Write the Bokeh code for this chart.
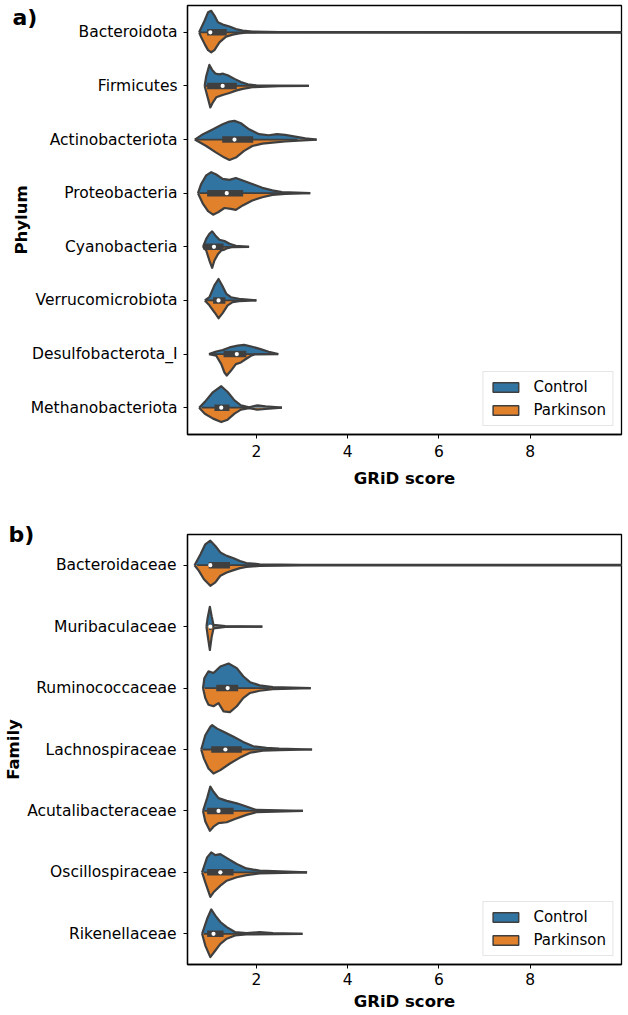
from bokeh.plotting import figure
from bokeh.models import Range1d, FixedTicker, Legend, LegendItem
from bokeh.layouts import column
from bokeh.embed import file_html
from bokeh.resources import INLINE

CTRL_COLOR = "#3274a1"
PARK_COLOR = "#e1812c"
EDGE = "#3f3f3f"
GROUPS = ["Control", "Parkinson"]

# ---------------- panel a: Phylum ----------------
phylum_labels = ["Bacteroidota", "Firmicutes", "Actinobacteriota", "Proteobacteria",
                 "Cyanobacteria", "Verrucomicrobiota", "Desulfobacterota_I", "Methanobacteriota"]
phylum_ctrl_x = [
    [0.745, 0.866, 0.94, 1.01, 1.08, 1.156, 1.264, 1.41, 1.55, 1.70, 1.91, 2.5, 10.2],
    [0.866, 0.90, 0.97, 1.03, 1.10, 1.18, 1.27, 1.37, 1.52, 1.66, 1.81, 2.0, 2.4, 3.15],
    [0.65, 0.83, 1.05, 1.26, 1.41, 1.52, 1.66, 1.84, 2.06, 2.27, 2.45, 2.63, 2.85, 3.07, 3.32],
    [0.72, 0.79, 0.90, 1.01, 1.12, 1.26, 1.41, 1.55, 1.70, 1.91, 2.13, 2.35, 2.56, 3.18],
    [0.83, 0.90, 0.97, 1.03, 1.10, 1.19, 1.30, 1.41, 1.55, 1.84],
    [0.87, 0.97, 1.08, 1.17, 1.25, 1.34, 1.44, 1.62, 2.0],
    [0.96, 1.12, 1.26, 1.41, 1.59, 1.73, 1.91, 2.09, 2.27, 2.48],
    [0.745, 0.87, 1.05, 1.23, 1.37, 1.52, 1.66, 1.84, 2.02, 2.20, 2.56],
]
phylum_ctrl_w = [
    [0, 0.55, 0.93, 1.0, 0.78, 0.47, 0.36, 0.27, 0.15, 0.08, 0.03, 0.015, 0.01],
    [0, 0.45, 0.98, 0.75, 0.58, 0.54, 0.57, 0.5, 0.33, 0.18, 0.08, 0.03, 0.015, 0],
    [0, 0.25, 0.48, 0.71, 0.84, 0.87, 0.76, 0.48, 0.25, 0.2, 0.25, 0.22, 0.14, 0.06, 0],
    [0, 0.43, 0.83, 0.98, 0.87, 0.67, 0.62, 0.71, 0.59, 0.43, 0.25, 0.13, 0.05, 0],
    [0, 0.37, 0.61, 0.72, 0.53, 0.33, 0.27, 0.14, 0.05, 0],
    [0, 0.15, 0.7, 1.0, 0.7, 0.31, 0.15, 0.08, 0],
    [0, 0.12, 0.19, 0.31, 0.39, 0.43, 0.34, 0.23, 0.11, 0],
    [0, 0.27, 0.73, 1.0, 0.73, 0.34, 0.11, 0.02, 0.11, 0.06, 0],
]
phylum_park_x = [
    [0.745, 0.79, 0.866, 0.94, 1.01, 1.08, 1.19, 1.335, 1.48, 1.62, 1.77, 2.5, 10.2],
    [0.866, 0.94, 0.99, 1.05, 1.12, 1.26, 1.41, 1.55, 1.70, 1.91, 2.5, 3.15],
    [0.65, 0.90, 1.12, 1.30, 1.41, 1.55, 1.73, 1.91, 2.13, 2.35, 2.63, 2.92, 3.32],
    [0.72, 0.83, 0.94, 1.05, 1.16, 1.30, 1.44, 1.55, 1.70, 1.91, 2.13, 2.35, 2.63, 3.18],
    [0.83, 0.90, 0.97, 1.03, 1.08, 1.16, 1.23, 1.30, 1.37, 1.48, 1.84],
    [0.87, 0.97, 1.08, 1.17, 1.26, 1.37, 1.48, 1.62, 2.0],
    [0.96, 1.12, 1.23, 1.30, 1.35, 1.44, 1.55, 1.66, 1.77, 1.88, 1.98, 2.48],
    [0.745, 0.87, 1.05, 1.23, 1.37, 1.52, 1.66, 1.84, 2.02, 2.20, 2.56],
]
phylum_park_w = [
    [0, 0.23, 0.55, 0.83, 0.93, 0.83, 0.47, 0.2, 0.11, 0.05, 0.015, 0.01, 0.01],
    [0, 0.6, 1.0, 0.75, 0.53, 0.42, 0.33, 0.22, 0.14, 0.06, 0.01, 0],
    [0, 0.3, 0.61, 0.84, 0.95, 0.84, 0.53, 0.3, 0.19, 0.14, 0.09, 0.05, 0],
    [0, 0.5, 0.84, 1.0, 0.89, 0.69, 0.73, 0.78, 0.57, 0.34, 0.19, 0.08, 0.03, 0],
    [0, 0.17, 0.64, 0.98, 0.64, 0.33, 0.17, 0.13, 0.06, 0.01, 0],
    [0, 0.23, 0.55, 0.83, 0.59, 0.23, 0.08, 0.03, 0],
    [0, 0.08, 0.47, 0.86, 1.0, 0.78, 0.47, 0.39, 0.23, 0.08, 0.01, 0],
    [0, 0.28, 0.51, 0.67, 0.56, 0.28, 0.09, 0.02, 0.09, 0.06, 0],
]
phylum_q1 = [0.92, 0.92, 1.25, 0.92, 0.84, 1.05, 1.28, 1.08]
phylum_median = [0.99, 1.26, 1.52, 1.35, 1.07, 1.17, 1.57, 1.23]
phylum_q3 = [1.35, 1.57, 1.93, 1.71, 1.28, 1.32, 1.78, 1.41]
phylum_whisker_lo = [0.76, 0.88, 0.70, 0.75, 0.84, 0.90, 1.00, 0.80]
phylum_whisker_hi = [2.0, 2.5, 2.9, 2.7, 1.7, 1.7, 2.3, 1.85]

# ---------------- panel b: Family ----------------
family_labels = ["Bacteroidaceae", "Muribaculaceae", "Ruminococcaceae", "Lachnospiraceae",
                 "Acutalibacteraceae", "Oscillospiraceae", "Rikenellaceae"]
family_ctrl_x = [
    [0.645, 0.775, 0.88, 0.99, 1.10, 1.21, 1.35, 1.50, 1.64, 1.78, 2.07, 3.0, 10.2],
    [0.905, 0.93, 0.98, 1.02, 1.06, 1.32, 2.13],
    [0.83, 0.86, 0.95, 1.06, 1.21, 1.39, 1.57, 1.71, 1.86, 2.07, 2.36, 3.19],
    [0.79, 0.88, 0.99, 1.03, 1.14, 1.28, 1.50, 1.71, 1.93, 2.22, 2.50, 3.22],
    [0.83, 0.92, 0.99, 1.06, 1.17, 1.35, 1.57, 1.78, 2.0, 3.02],
    [0.81, 0.92, 1.01, 1.10, 1.21, 1.39, 1.57, 1.78, 2.07, 3.11],
    [0.81, 0.92, 1.01, 1.10, 1.21, 1.35, 1.53, 1.78, 2.07, 2.36, 3.01],
]
family_ctrl_w = [
    [0, 0.45, 0.85, 1.0, 0.78, 0.52, 0.38, 0.28, 0.17, 0.09, 0.04, 0.015, 0.01],
    [0, 0.34, 0.81, 0.41, 0.07, 0.02, 0],
    [0, 0.41, 0.68, 0.61, 0.88, 1.0, 0.81, 0.48, 0.24, 0.11, 0.04, 0],
    [0, 0.58, 0.92, 0.99, 0.85, 0.72, 0.52, 0.31, 0.13, 0.07, 0.04, 0],
    [0, 0.52, 0.99, 0.78, 0.52, 0.41, 0.31, 0.18, 0.04, 0],
    [0, 0.61, 0.81, 0.70, 0.74, 0.54, 0.34, 0.16, 0.07, 0],
    [0, 0.61, 0.99, 0.74, 0.48, 0.27, 0.07, 0.03, 0.07, 0.03, 0],
]
family_park_x = [
    [0.645, 0.74, 0.85, 0.99, 1.10, 1.21, 1.35, 1.50, 1.64, 1.78, 2.07, 3.0, 10.2],
    [0.905, 0.93, 0.98, 1.02, 1.06, 1.32, 2.13],
    [0.83, 0.88, 0.95, 1.06, 1.17, 1.28, 1.42, 1.57, 1.71, 1.86, 2.07, 2.36, 3.19],
    [0.79, 0.85, 0.95, 1.06, 1.21, 1.42, 1.64, 1.86, 2.14, 2.50, 3.22],
    [0.83, 0.88, 0.98, 1.06, 1.17, 1.35, 1.53, 1.78, 2.0, 3.02],
    [0.81, 0.88, 0.99, 1.06, 1.21, 1.35, 1.57, 1.78, 2.07, 3.11],
    [0.81, 0.88, 0.99, 1.10, 1.21, 1.35, 1.53, 1.78, 3.01],
]
family_park_w = [
    [0, 0.23, 0.57, 0.84, 0.7, 0.43, 0.3, 0.2, 0.12, 0.07, 0.03, 0.012, 0.01],
    [0, 0.34, 0.95, 0.41, 0.07, 0.01, 0],
    [0, 0.41, 0.68, 0.74, 0.61, 0.95, 0.98, 0.74, 0.41, 0.2, 0.11, 0.04, 0],
    [0, 0.37, 0.77, 0.98, 0.84, 0.57, 0.33, 0.13, 0.05, 0.03, 0],
    [0, 0.43, 0.81, 0.64, 0.5, 0.46, 0.33, 0.16, 0.05, 0],
    [0, 0.41, 1.0, 0.81, 0.54, 0.34, 0.2, 0.11, 0.04, 0],
    [0, 0.48, 0.95, 0.68, 0.41, 0.2, 0.07, 0.03, 0],
]
family_q1 = [0.955, 0.96, 1.12, 1.01, 0.92, 0.92, 0.92]
family_median = [0.99, 0.99, 1.37, 1.32, 1.17, 1.21, 1.06]
family_q3 = [1.42, 1.02, 1.60, 1.68, 1.50, 1.50, 1.28]
family_whisker_lo = [0.70, 0.93, 0.87, 0.82, 0.86, 0.85, 0.85]
family_whisker_hi = [2.1, 1.08, 2.3, 2.7, 2.4, 2.4, 1.8]

x_ticks = [2, 4, 6, 8]
x_title = "GRiD score"
X_MIN, X_MAX = 0.49, 10.0

FONT = "DejaVu Sans"
HALF = 0.4
WIDTH = 628


def make_panel(tag, ylabel, labels, cx, cw, px, pw, q1, med, q3, wlo, whi,
               height, border_left, border_right, border_top, border_bottom,
               ytick_standoff, ylabel_standoff, xtick_standoff, xlabel_standoff,
               tag_align, tag_standoff, tag_offset):
    n = len(labels)
    p = figure(width=WIDTH, height=height, output_backend="svg", toolbar_location=None,
               x_range=Range1d(X_MIN, X_MAX), y_range=Range1d(n - 0.5, -0.5),
               min_border_left=border_left, min_border_right=border_right,
               min_border_top=border_top, min_border_bottom=border_bottom,
               title=tag)
    p.background_fill_color = "white"
    p.border_fill_color = "white"
    p.outline_line_color = "black"
    p.outline_line_width = 1.3
    p.xgrid.visible = False
    p.ygrid.visible = False

    # panel tag as title
    p.title.text_font = FONT
    p.title.text_font_style = "bold"
    p.title.text_font_size = "22px"
    p.title.text_color = "black"
    p.title.align = "left"
    p.title.vertical_align = tag_align
    p.title.offset = tag_offset
    p.title.standoff = tag_standoff

    fill_xs, fill_ys, fill_c = [], [], []
    edge_xs, edge_ys = [], []
    for i in range(n):
        for xs, ws, sign, col in ((cx[i], cw[i], -1, CTRL_COLOR), (px[i], pw[i], 1, PARK_COLOR)):
            ys = [i + sign * HALF * w for w in ws]
            fill_xs.append(list(xs) + [xs[-1], xs[0]])
            fill_ys.append(ys + [i, i])
            fill_c.append(col)
            edge_xs.append(list(xs))
            edge_ys.append(ys)
    p.patches(xs=fill_xs, ys=fill_ys, fill_color=fill_c, line_color=None)
    p.multi_line(xs=edge_xs, ys=edge_ys, line_color=EDGE, line_width=2.2, line_join="round")

    cats = list(range(n))
    p.segment(x0=wlo, x1=whi, y0=cats, y1=cats, line_color=EDGE, line_width=1.8)
    p.segment(x0=q1, x1=q3, y0=cats, y1=cats, line_color=EDGE, line_width=6.5, line_cap="butt")
    p.scatter(x=med, y=cats, size=4.2, fill_color="white", line_color=None)

    # legend swatches (drawn outside the visible ranges, only used by the legend)
    r_c = p.patches(xs=[[-60, -59, -59]], ys=[[0, 0, 1]], fill_color=CTRL_COLOR,
                    line_color=EDGE, line_width=1.5)
    r_p = p.patches(xs=[[-60, -59, -59]], ys=[[0, 0, 1]], fill_color=PARK_COLOR,
                    line_color=EDGE, line_width=1.5)
    leg = Legend(items=[LegendItem(label=GROUPS[0], renderers=[r_c]),
                        LegendItem(label=GROUPS[1], renderers=[r_p])],
                 location="bottom_right")
    leg.label_text_font = FONT
    leg.label_text_font_size = "15px"
    leg.label_text_color = "black"
    leg.glyph_width = 32
    leg.glyph_height = 12
    leg.label_height = 18
    leg.spacing = 5
    leg.padding = 6
    leg.margin = 8
    leg.label_standoff = 12
    leg.border_line_color = "#cccccc"
    leg.border_line_width = 1
    leg.background_fill_alpha = 0.85
    p.add_layout(leg)

    # axes
    p.xaxis.ticker = FixedTicker(ticks=x_ticks)
    p.xaxis.axis_label = x_title
    p.yaxis.ticker = FixedTicker(ticks=cats)
    p.yaxis.major_label_overrides = {i: labels[i] for i in range(n)}
    p.yaxis.axis_label = ylabel
    for ax in (p.xaxis[0], p.yaxis[0]):
        ax.axis_line_color = "black"
        ax.axis_line_width = 1.3
        ax.major_tick_line_color = "black"
        ax.major_tick_out = 4
        ax.major_tick_in = 0
        ax.minor_tick_line_color = None
        ax.major_label_text_font = FONT
        ax.major_label_text_font_size = "15.5px"
        ax.major_label_text_color = "black"
        ax.axis_label_text_font = FONT
        ax.axis_label_text_font_style = "bold"
        ax.axis_label_text_font_size = "16.5px"
        ax.axis_label_text_color = "black"
    p.yaxis.axis_label_text_line_height = 0.9
    p.yaxis.major_label_standoff = ytick_standoff
    p.yaxis.axis_label_standoff = ylabel_standoff
    p.xaxis.major_label_standoff = xtick_standoff
    p.xaxis.axis_label_standoff = xlabel_standoff
    return p


pa = make_panel("a)", "Phylum", phylum_labels, phylum_ctrl_x, phylum_ctrl_w,
                phylum_park_x, phylum_park_w, phylum_q1, phylum_median, phylum_q3,
                phylum_whisker_lo, phylum_whisker_hi,
                height=510, border_left=181, border_right=7, border_top=5, border_bottom=76,
                ytick_standoff=6, ylabel_standoff=-3, xtick_standoff=6, xlabel_standoff=9,
                tag_align="bottom", tag_standoff=-48, tag_offset=-175)
pb = make_panel("b)", "Family", family_labels, family_ctrl_x, family_ctrl_w,
                family_park_x, family_park_w, family_q1, family_median, family_q3,
                family_whisker_lo, family_whisker_hi,
                height=503, border_left=187, border_right=1, border_top=24, border_bottom=49,
                ytick_standoff=7, ylabel_standoff=1, xtick_standoff=4, xlabel_standoff=4,
                tag_align="middle", tag_standoff=-48, tag_offset=-179)

layout = column(pa, pb, spacing=0)
open("out.html", "w").write(file_html(layout, INLINE))
